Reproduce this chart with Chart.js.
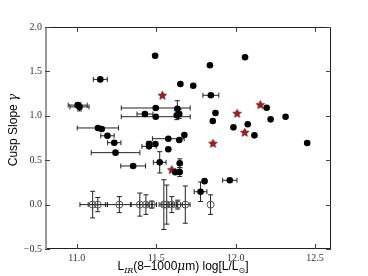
<!DOCTYPE html>
<html><head><meta charset="utf-8">
<script src="https://cdn.jsdelivr.net/npm/chart.js@4/dist/chart.umd.min.js"></script>
<style>html,body{margin:0;padding:0;background:#fff;}canvas{display:block;}</style>
</head><body>
<canvas id="c" width="368" height="276"></canvas>
<script>
// ---- data ----
const xTickValues = [11.0, 11.5, 12.0, 12.5];
const yTickValues = [-0.5, 0.0, 0.5, 1.0, 1.5, 2.0];

const filledX = [11.148, 11.006, 11.017, 11.133, 11.157, 11.193, 11.236, 11.244, 11.355, 11.493, 11.838, 11.652, 11.733, 11.844, 11.497, 11.633, 11.429, 11.497, 11.629, 11.645, 11.873, 11.856, 11.986, 11.677, 11.576, 11.645, 12.059, 12.195, 12.22, 12.314, 12.076, 12.118, 12.45, 11.455, 11.455, 11.495, 11.576, 11.522, 11.62, 11.648, 11.648, 11.804, 11.963, 11.779];
const filledY = [1.41, 1.12, 1.10, 0.863, 0.851, 0.775, 0.697, 0.585, 0.435, 1.677, 1.569, 1.358, 1.339, 1.231, 1.088, 1.08, 1.02, 0.99, 1.007, 1.02, 1.032, 0.941, 0.87, 0.784, 0.742, 0.728, 1.659, 1.091, 0.96, 0.99, 0.904, 0.78, 0.694, 0.682, 0.656, 0.682, 0.623, 0.476, 0.364, 0.367, 0.465, 0.264, 0.274, 0.145];
const filledXErr = [0.044, 0.06, 0.06, 0.13, 0, 0.042, 0.042, 0.153, 0.078, 0, 0, 0, 0, 0.05, 0.217, 0, 0.05, 0.217, 0, 0, 0, 0, 0, 0, 0.1, 0, 0, 0, 0, 0, 0, 0, 0, 0, 0.045, 0, 0, 0.04, 0, 0, 0, 0, 0.045, 0.04];
const filledYErr = [0, 0, 0.045, 0, 0, 0, 0, 0, 0, 0, 0, 0, 0, 0, 0, 0.09, 0, 0, 0.05, 0.05, 0, 0, 0, 0, 0, 0, 0, 0, 0, 0, 0, 0, 0, 0.03, 0, 0, 0, 0.12, 0, 0.05, 0.05, 0, 0, 0.11];

const starX = [11.539, 12.009, 12.155, 12.057, 11.857, 11.598];
const starY = [1.231, 1.028, 1.125, 0.814, 0.69, 0.393];

const openX = [11.100, 11.132, 11.268, 11.397, 11.435, 11.472, 11.548, 11.566, 11.598, 11.635, 11.683, 11.842];
const openY = [0, 0, 0, 0, 0, 0, 0, 0, 0, 0, 0, 0];
const openXErr = [0.08, 0.06, 0.075, 0.06, 0.04, 0.03, 0.03, 0.03, 0.03, 0.03, 0.03, 0];
const openYErr = [0.15, 0.08, 0.09, 0.13, 0.11, 0.04, 0.28, 0.22, 0.09, 0.05, 0.21, 0.11];

// ---- helpers ----
function makeStar(){
  const c = document.createElement('canvas'); c.width = 11; c.height = 11;
  const g = c.getContext('2d');
  g.beginPath();
  for (let i = 0; i < 10; i++) {
    const r = i % 2 ? 2.0 : 4.4;
    const a = -Math.PI / 2 + i * Math.PI / 5;
    g.lineTo(5.5 + r * Math.cos(a), 5.8 + r * Math.sin(a));
  }
  g.closePath();
  g.fillStyle = '#e00000'; g.fill();
  g.strokeStyle = '#333'; g.lineWidth = 0.9; g.stroke();
  return c;
}
const pts = (xs, ys) => xs.map((x, i) => ({x: x, y: ys[i]}));

function drawErr(ctx, xs, ys, xe, ye, sx, sy){
  const cap = 2.5;
  ctx.strokeStyle = '#222'; ctx.lineWidth = 1;
  xs.forEach((x, i) => {
    const px = sx.getPixelForValue(x), py = sy.getPixelForValue(ys[i]);
    if (xe[i] > 0) {
      const l = sx.getPixelForValue(x - xe[i]), r = sx.getPixelForValue(x + xe[i]);
      ctx.beginPath(); ctx.moveTo(l, py); ctx.lineTo(r, py);
      ctx.moveTo(l, py - cap); ctx.lineTo(l, py + cap);
      ctx.moveTo(r, py - cap); ctx.lineTo(r, py + cap); ctx.stroke();
    }
    if (ye[i] > 0) {
      const t = sy.getPixelForValue(ys[i] + ye[i]), b = sy.getPixelForValue(ys[i] - ye[i]);
      ctx.beginPath(); ctx.moveTo(px, t); ctx.lineTo(px, b);
      ctx.moveTo(px - cap, t); ctx.lineTo(px + cap, t);
      ctx.moveTo(px - cap, b); ctx.lineTo(px + cap, b); ctx.stroke();
    }
  });
}

const decor = {
  id: 'decor',
  beforeDatasetsDraw(chart){
    const ctx = chart.ctx, sx = chart.scales.x, sy = chart.scales.y;
    ctx.save();
    drawErr(ctx, openX, openY, openXErr, openYErr, sx, sy);
    drawErr(ctx, filledX, filledY, filledXErr, filledYErr, sx, sy);
    ctx.restore();
  },
  afterDraw(chart){
    const ctx = chart.ctx, a = chart.chartArea, sx = chart.scales.x, sy = chart.scales.y;
    ctx.save();
    // spines
    ctx.lineWidth = 1; ctx.strokeStyle = '#222';
    ctx.beginPath();
    ctx.moveTo(a.left, a.top + 0.5); ctx.lineTo(a.right, a.top + 0.5);
    ctx.moveTo(a.right - 0.5, a.top); ctx.lineTo(a.right - 0.5, a.bottom);
    ctx.moveTo(a.left, a.bottom - 0.5); ctx.lineTo(a.right, a.bottom - 0.5);
    ctx.stroke();
    ctx.strokeStyle = '#999'; ctx.lineWidth = 2;
    ctx.beginPath(); ctx.moveTo(a.left + 1, a.top); ctx.lineTo(a.left + 1, a.bottom); ctx.stroke();
    // inside ticks
    ctx.strokeStyle = '#444'; ctx.lineWidth = 1;
    const tl = 5;
    ctx.beginPath();
    xTickValues.forEach(v => {
      const px = Math.round(sx.getPixelForValue(v)) + 0.5;
      ctx.moveTo(px, a.bottom); ctx.lineTo(px, a.bottom - tl);
      ctx.moveTo(px, a.top); ctx.lineTo(px, a.top + tl);
    });
    yTickValues.forEach(v => {
      const py = Math.round(sy.getPixelForValue(v)) + 0.5;
      ctx.moveTo(a.left, py); ctx.lineTo(a.left + tl, py);
      ctx.moveTo(a.right, py); ctx.lineTo(a.right - tl, py);
    });
    ctx.stroke();
    // y title
    ctx.fillStyle = '#000';
    ctx.translate(13, (a.top + a.bottom) / 2 - 8);
    ctx.rotate(-Math.PI / 2);
    ctx.textBaseline = 'alphabetic';
    const f1 = '12px "Liberation Sans"', fg = 'italic 12px "DejaVu Serif"';
    ctx.font = f1; const w1 = ctx.measureText('Cusp Slope ').width;
    ctx.font = fg; const w2 = ctx.measureText('γ').width;
    let x0 = -(w1 + w2) / 2;
    ctx.font = f1; ctx.fillText('Cusp Slope ', x0, 4);
    ctx.font = fg; ctx.fillText('γ', x0 + w1, 4);
    ctx.restore();
    // x title
    ctx.save();
    ctx.fillStyle = '#000';
    const parts = [
      ['L', '12px "Liberation Sans"', 0],
      ['IR', 'italic 8px "DejaVu Serif"', 3],
      ['(8–1000', '12px "Liberation Sans"', 0],
      ['μ', 'italic 12px "DejaVu Serif"', 0],
      ['m) log[L/L', '12px "Liberation Sans"', 0],
      ['⊙', '8px "DejaVu Sans"', 3],
      [']', '12px "Liberation Sans"', 0]
    ];
    let tw = 0;
    parts.forEach(p => { ctx.font = p[1]; p.push(ctx.measureText(p[0]).width); tw += p[3]; });
    let cx = 183 - tw / 2; const base = 270;
    parts.forEach(p => { ctx.font = p[1]; ctx.fillText(p[0], cx, base + p[2]); cx += p[3]; });
    ctx.restore();
  }
};

const tickFont = {family: '"Liberation Serif"', size: 10};
new Chart(document.getElementById('c'), {
  type: 'scatter',
  data: {datasets: [
    {data: pts(openX, openY), pointStyle: 'circle', pointRadius: 3.5, backgroundColor: 'rgba(0,0,0,0)', borderColor: '#555', borderWidth: 1},
    {data: pts(filledX, filledY), pointStyle: 'circle', pointRadius: 3.3, backgroundColor: '#000', borderColor: '#000', borderWidth: 0},
    {data: pts(starX, starY), pointStyle: makeStar(), pointRadius: 4}
  ]},
  options: {
    responsive: false, animation: false, devicePixelRatio: 1,
    layout: {padding: {left: 0, right: 37, top: 27, bottom: 0}},
    plugins: {legend: {display: false}, tooltip: {enabled: false}},
    scales: {
      x: {type: 'linear', min: 10.8, max: 12.6,
        afterBuildTicks: s => { s.ticks = xTickValues.map(v => ({value: v})); },
        afterFit: s => { s.height = 27; },
        grid: {display: false, drawTicks: false}, border: {display: false},
        ticks: {padding: 3, font: tickFont, color: '#333', maxRotation: 0, callback: v => Number(v).toFixed(1)}},
      y: {type: 'linear', min: -0.5, max: 2.0,
        afterBuildTicks: s => { s.ticks = yTickValues.map(v => ({value: v})); },
        afterFit: s => { s.width = 45; },
        grid: {display: false, drawTicks: false}, border: {display: false},
        ticks: {padding: 3, font: tickFont, color: '#333', callback: v => Number(v).toFixed(1).replace('-', '−')}}
    }
  },
  plugins: [decor]
});
</script>
</body></html>
